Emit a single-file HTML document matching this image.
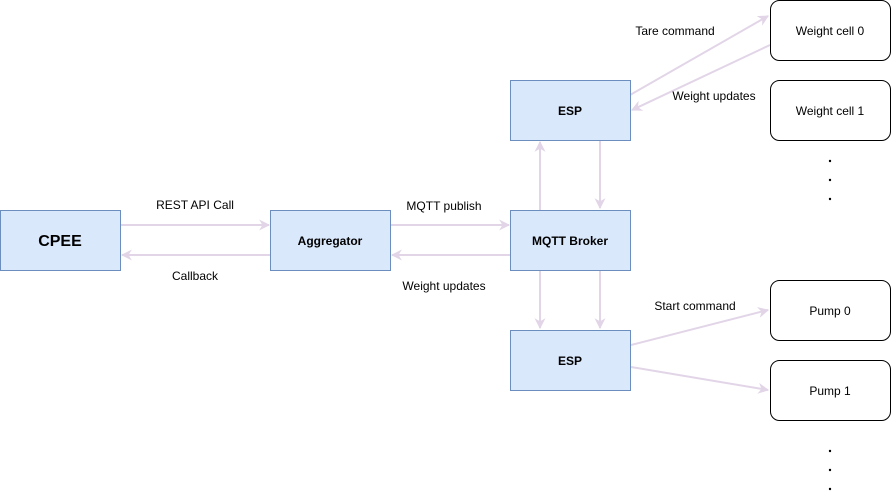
<!DOCTYPE html>
<html><head><style>
body{margin:0;background:#fff;}
</style></head><body>
<svg width="891" height="495" viewBox="0 0 891 495" xmlns="http://www.w3.org/2000/svg" font-family="Liberation Sans, Arial, sans-serif">
<defs>
<marker id="a" viewBox="0 0 10 10" refX="9" refY="5" markerWidth="11" markerHeight="11" orient="auto" markerUnits="userSpaceOnUse">
<path d="M0,0 L10,5 L0,10 L3,5 Z" fill="#e1d5e7"/>
</marker>
</defs>
<g stroke="#e1d5e7" stroke-width="2" fill="none" marker-end="url(#a)">
<line x1="121" y1="225" x2="269" y2="225"/>
<line x1="270" y1="255" x2="122" y2="255"/>
<line x1="391" y1="225" x2="509" y2="225"/>
<line x1="510" y1="255" x2="392" y2="255"/>
<line x1="540" y1="210" x2="540" y2="142"/>
<line x1="600" y1="141" x2="600" y2="208"/>
<line x1="540" y1="271" x2="540" y2="328"/>
<line x1="600" y1="271" x2="600" y2="328"/>
<line x1="630" y1="95" x2="768" y2="16"/>
<line x1="770" y1="45" x2="632" y2="110"/>
<line x1="631" y1="345" x2="768" y2="310"/>
<line x1="631" y1="367" x2="768" y2="390"/>
</g>
<g fill="#dae8fc" stroke="#6c8ebf" stroke-width="1">
<rect x="0.5" y="210.5" width="120" height="60"/>
<rect x="270.5" y="210.5" width="120" height="60"/>
<rect x="510.5" y="210.5" width="120" height="60"/>
<rect x="510.5" y="80.5" width="120" height="60"/>
<rect x="510.5" y="330.5" width="120" height="60"/>
</g>
<g fill="#fff" stroke="#000" stroke-width="1">
<rect x="770.5" y="0.5" width="120" height="60" rx="9"/>
<rect x="770.5" y="80.5" width="120" height="60" rx="9"/>
<rect x="770.5" y="280.5" width="120" height="60" rx="9"/>
<rect x="770.5" y="360.5" width="120" height="60" rx="9"/>
</g>
<g text-anchor="middle" font-size="12" fill="#000">
<text x="60" y="246" font-size="16" font-weight="bold">CPEE</text>
<text x="330" y="245" font-weight="bold">Aggregator</text>
<text x="570" y="245" font-weight="bold">MQTT Broker</text>
<text x="570" y="115" font-weight="bold">ESP</text>
<text x="570" y="365" font-weight="bold">ESP</text>
<text x="830" y="35">Weight cell 0</text>
<text x="830" y="115">Weight cell 1</text>
<text x="830" y="315">Pump 0</text>
<text x="830" y="395">Pump 1</text>
<text x="195" y="209">REST API Call</text>
<text x="195" y="280">Callback</text>
<text x="444" y="210">MQTT publish</text>
<text x="444" y="290">Weight updates</text>
<text x="675" y="35">Tare command</text>
<text x="714" y="100">Weight updates</text>
<text x="695" y="310">Start command</text>
</g>
<g fill="#000">
<circle cx="830" cy="161" r="1.2"/><circle cx="830" cy="180" r="1.2"/><circle cx="830" cy="199" r="1.2"/>
<circle cx="830" cy="451" r="1.2"/><circle cx="830" cy="470" r="1.2"/><circle cx="830" cy="489" r="1.2"/>
</g>
</svg>
</body></html>
